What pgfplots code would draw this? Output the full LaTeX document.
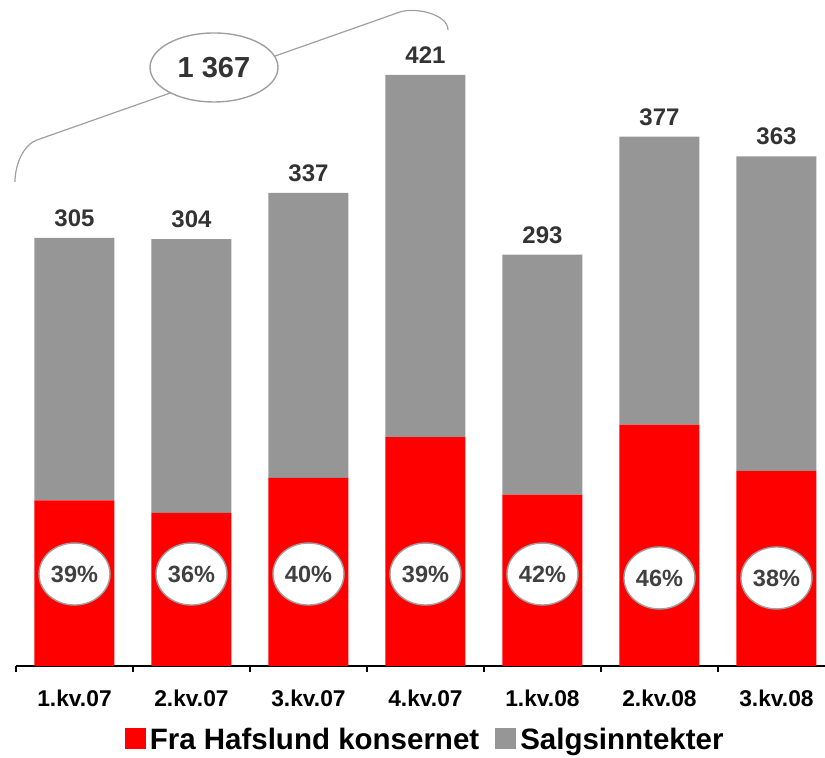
\documentclass[border=0pt]{standalone}
\usepackage{fontspec}
\setmainfont{Liberation Sans}
\usepackage{pgfplots}
\pgfplotsset{compat=1.18}
\usetikzlibrary{shapes.geometric}
\definecolor{barred}{RGB}{255,0,0}
\definecolor{bargray}{RGB}{150,150,150}
\definecolor{txtdark}{RGB}{51,51,51}
\definecolor{pcttxt}{RGB}{64,64,64}
\definecolor{linegray}{RGB}{160,160,160}
\begin{document}
\begin{tikzpicture}
\useasboundingbox (-8pt,-46pt) rectangle (404.5pt,333pt);
\begin{axis}[
  at={(0,0)}, anchor=south west,
  scale only axis, width=404.5pt, height=333pt,
  xmin=-0.5, xmax=6.415, ymin=0, ymax=474.4,
  ybar stacked, bar width=40pt,
  axis x line*=bottom, axis y line=none,
  x axis line style={-, black, line width=0.6pt},
  xtick={0,...,6},
  xticklabels={1.kv.07,2.kv.07,3.kv.07,4.kv.07,1.kv.08,2.kv.08,3.kv.08},
  major tick length=0pt,
  tick align=outside,
  xticklabel style={font=\fontsize{11.4}{13}\selectfont\bfseries, anchor=base, yshift=-20.5pt},
  extra x ticks={-0.5,0.5,1.5,2.5,3.5,4.5,5.5},
  extra x tick labels={},
  extra x tick style={major tick length=3pt, tick style={black, line width=0.6pt}},
  legend columns=2,
  legend style={at={(0.507,-0.112)}, anchor=center, draw=none, fill=none,
    font=\fontsize{14.75}{17}\selectfont\bfseries,
    /tikz/every even column/.append style={column sep=6pt}},
  legend image code/.code={\fill[#1] (0pt,-4pt) rectangle (10.5pt,6.5pt);},
  clip=false,
]
\addplot[fill=barred, draw=none] coordinates {(0,118) (1,109) (2,134) (3,163) (4,122) (5,172) (6,139)};
\addlegendentry{Fra Hafslund konsernet}
\addplot[fill=bargray, draw=none] coordinates {(0,187) (1,195) (2,203) (3,258) (4,171) (5,205) (6,224)};
\addlegendentry{Salgsinntekter}

\tikzset{tot/.style={anchor=base, yshift=5.75pt, text=txtdark, font=\fontsize{12}{14}\selectfont\bfseries}}
\node[tot] at (axis cs:0,305) {305};
\node[tot] at (axis cs:1,304) {304};
\node[tot] at (axis cs:2,337) {337};
\node[tot] at (axis cs:3,421) {421};
\node[tot] at (axis cs:4,293) {293};
\node[tot] at (axis cs:5,377) {377};
\node[tot] at (axis cs:6,363) {363};

\coordinate (p0) at (axis cs:0,65.5);
\coordinate (p1) at (axis cs:1,65.5);
\coordinate (p2) at (axis cs:2,65.5);
\coordinate (p3) at (axis cs:3,65.5);
\coordinate (p4) at (axis cs:4,65.5);
\coordinate (p5) at (axis cs:5,62.7);
\coordinate (p6) at (axis cs:6,62.7);
\end{axis}
\tikzset{pct/.style={ellipse, draw=linegray, line width=0.7pt, fill=white, minimum width=35.5pt, minimum height=31pt, inner sep=0pt, text=pcttxt, font=\fontsize{11.75}{13}\selectfont\bfseries}}
\node[pct] at (p0) {39\%};
\node[pct] at (p1) {36\%};
\node[pct] at (p2) {40\%};
\node[pct] at (p3) {39\%};
\node[pct] at (p4) {42\%};
\node[pct] at (p5) {46\%};
\node[pct] at (p6) {38\%};
\draw[linegray, line width=0.6pt] (-0.5pt,242pt) .. controls (-0.5pt,250.5pt) and (3.5pt,260.5pt) .. (10.5pt,263pt) -- (192pt,327pt) .. controls (199.5pt,329.5pt) and (216pt,326pt) .. (216pt,318pt);
\node[ellipse, draw=linegray, line width=0.7pt, fill=white, minimum width=64pt, minimum height=34.5pt, inner sep=0pt, text=txtdark, font=\fontsize{14.5}{16}\selectfont\bfseries] at (99pt,299.25pt) {1 367};
\end{tikzpicture}
\end{document}
